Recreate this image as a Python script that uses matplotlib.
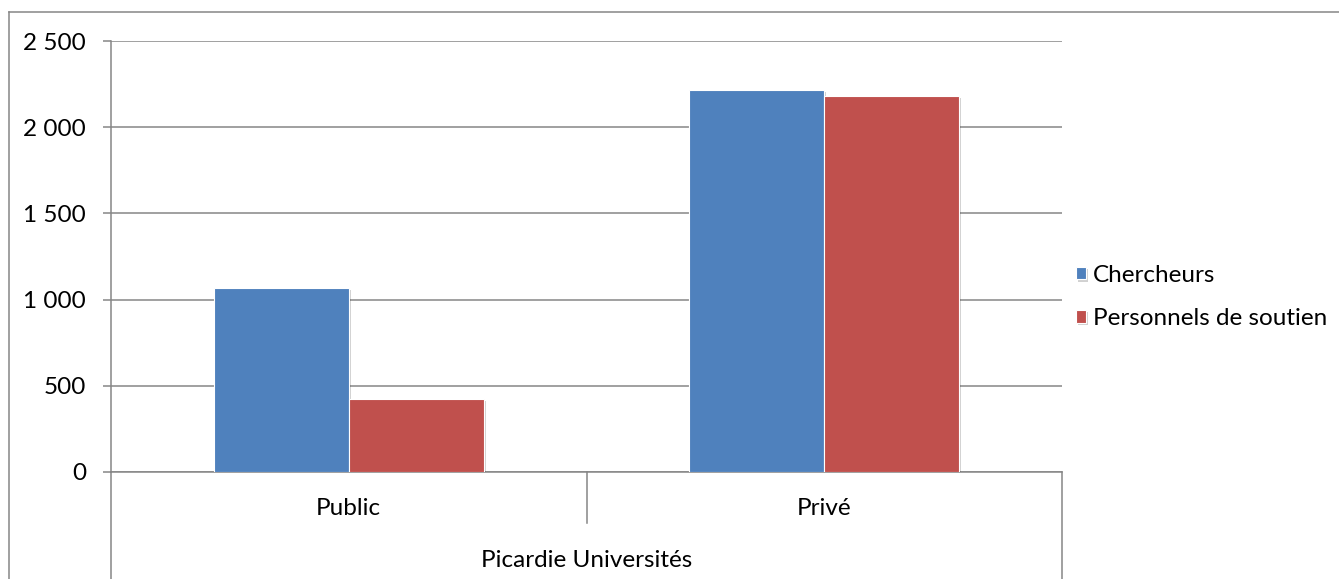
import matplotlib
matplotlib.use("Agg")
import matplotlib.pyplot as plt
from matplotlib import patheffects as pe
from matplotlib.lines import Line2D

# Data
categories = ["Public", "Privé"]
group_label = "Picardie Universités"
series_names = ["Chercheurs", "Personnels de soutien"]
chercheurs = [1066, 2215]
personnels = [423, 2183]
yticks = [0, 500, 1000, 1500, 2000, 2500]
ytick_labels = ["0", "500", "1 000", "1 500", "2 000", "2 500"]

colors = ["#4F81BD", "#C0504D"]
grid_color = "#868686"

plt.rcParams['font.family'] = ['Lato', 'DejaVu Sans']
FS = 17.5

W, H = 1339, 579
fig = plt.figure(figsize=(W / 100, H / 100), dpi=100)
fig.patch.set_facecolor("white")

left, right, top, bottom = 111, 1062, 41, 472
ax = fig.add_axes([left / W, (H - bottom) / H, (right - left) / W, (bottom - top) / H])

x = list(range(len(categories)))
bw = 0.284
shadow = [pe.SimplePatchShadow(offset=(1.5, -1.5), shadow_rgbFace="#000000", alpha=0.18), pe.Normal()]
for i, (vals, name) in enumerate(zip([chercheurs, personnels], series_names)):
    xs = [xi + (i - 0.5) * bw for xi in x]
    bars = ax.bar(xs, vals, bw, color=colors[i], edgecolor="white", linewidth=0.8,
                  label=name, zorder=3)
    for b in bars:
        b.set_path_effects(shadow)

ax.set_xlim(-0.5, len(categories) - 0.5)
ax.set_ylim(0, 2500)
ax.set_yticks(yticks)
ax.set_yticklabels(ytick_labels, fontsize=FS)
ax.tick_params(axis="y", length=6, width=1.1, color=grid_color, pad=12)
ax.tick_params(axis="x", length=0, labelbottom=False)
ax.yaxis.grid(True, color=grid_color, linewidth=1.1, zorder=0)
ax.set_axisbelow(True)

for s in ["top", "right"]:
    ax.spines[s].set_visible(False)
for s in ["left", "bottom"]:
    ax.spines[s].set_color(grid_color)
    ax.spines[s].set_linewidth(1.1)

# Multi-level category axis below the plot
tr = ax.get_xaxis_transform()
y_div = (bottom - 523) / (bottom - top)
y_end = (bottom - 579) / (bottom - top)
for xv in [-0.5, len(categories) - 0.5]:
    ax.add_line(Line2D([xv, xv], [0, y_end], transform=tr, color=grid_color,
                       linewidth=1.1, clip_on=False))
for k in range(1, len(categories)):
    xv = k - 0.5
    ax.add_line(Line2D([xv, xv], [0, y_div], transform=tr, color=grid_color,
                       linewidth=1.1, clip_on=False))

y_cat = (bottom - 515) / (bottom - top)
y_grp = (bottom - 567) / (bottom - top)
for xi, c in zip(x, categories):
    ax.text(xi, y_cat, c, transform=tr, ha="center", va="baseline", fontsize=FS)
ax.text((len(categories) - 1) / 2, y_grp, group_label, transform=tr,
        ha="center", va="baseline", fontsize=FS)

# Legend
leg = ax.legend(loc="center left", bbox_to_anchor=(1066 / W, (H - 297) / H),
                bbox_transform=fig.transFigure, frameon=False, fontsize=FS,
                handlelength=0.42, handleheight=0.42, handletextpad=0.3,
                labelspacing=0.92, borderaxespad=0)

# Chart outer frame
fig.add_artist(Line2D([9 / W, 9 / W], [0, (H - 11.5) / H], transform=fig.transFigure,
                      color=grid_color, linewidth=1.1))
fig.add_artist(Line2D([9 / W, 1], [(H - 11.5) / H, (H - 11.5) / H], transform=fig.transFigure,
                      color=grid_color, linewidth=1.1))

fig.savefig("out.png", dpi=100, facecolor="white")
